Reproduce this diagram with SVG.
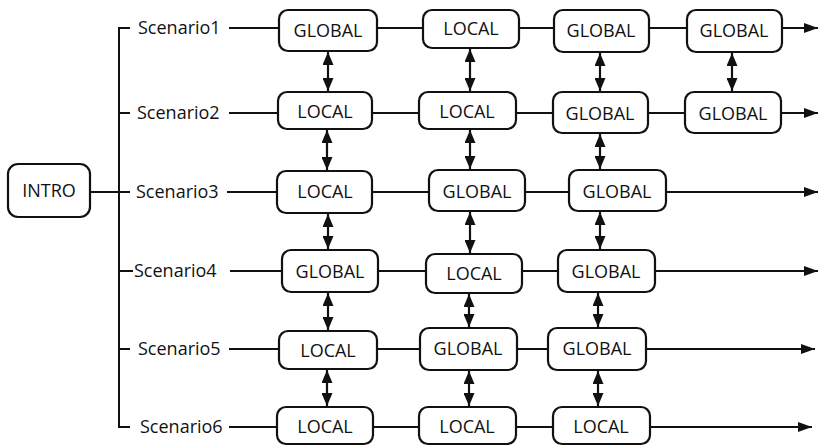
<svg xmlns="http://www.w3.org/2000/svg" width="820" height="446" viewBox="0 0 820 446">
  <defs>
    <style>
      .box { fill: #ffffff; stroke: #111111; stroke-width: 2.2; }
      .lbl { font-family: "Open Sans", "Noto Sans", "Liberation Sans", sans-serif; font-size: 18px; fill: #111111; text-anchor: middle; }
      .scn { font-family: "Open Sans", "Noto Sans", "Liberation Sans", sans-serif; font-size: 18px; fill: #111111; text-anchor: start; }
      .wire { stroke: #111111; stroke-width: 2; fill: none; }
      .link { stroke: #111111; stroke-width: 2; fill: none; marker-end: url(#head); }
      .both { stroke: #111111; stroke-width: 2.2; fill: none; marker-start: url(#vhead); marker-end: url(#vhead); }
    </style>
    <marker id="head" viewBox="0 0 14 10" refX="14" refY="5" markerWidth="14" markerHeight="10" markerUnits="userSpaceOnUse" orient="auto-start-reverse">
      <path d="M0,0 L14,5 L0,10 z" fill="#111111"/>
    </marker>
    <marker id="vhead" viewBox="0 0 13 11" refX="13" refY="5.5" markerWidth="13" markerHeight="11" markerUnits="userSpaceOnUse" orient="auto-start-reverse">
      <path d="M0,0 L13,5.5 L0,11 z" fill="#111111"/>
    </marker>
  </defs>
  <rect width="820" height="446" fill="#ffffff"/>

  <!-- connectors -->
  <g id="connectors">
    <!-- bracket from INTRO to the scenario rows -->
    <path class="wire" d="M90,192 H130"/>
    <path class="wire" d="M130,28 H119 V427 H130"/>
    <path class="wire" d="M119,113 H130"/>
    <path class="wire" d="M119,271 H133"/>
    <path class="wire" d="M119,349 H130"/>

    <!-- row 1 -->
    <path class="wire" d="M229,28 H279"/>
    <path class="wire" d="M377,28 H423"/>
    <path class="wire" d="M519,28 H554"/>
    <path class="wire" d="M649,28 H687"/>
    <path class="link" d="M782,28 H818"/>

    <!-- row 2 -->
    <path class="wire" d="M229,113 H278"/>
    <path class="wire" d="M372,113 H419"/>
    <path class="wire" d="M516,113 H553"/>
    <path class="wire" d="M648,113 H685"/>
    <path class="link" d="M781,113 H818"/>

    <!-- row 3 -->
    <path class="wire" d="M227,192 H277"/>
    <path class="wire" d="M372,192 H429"/>
    <path class="wire" d="M525,192 H569"/>
    <path class="link" d="M666,192 H818"/>

    <!-- row 4 -->
    <path class="wire" d="M230,271 H282"/>
    <path class="wire" d="M378,271 H426"/>
    <path class="wire" d="M522,271 H558"/>
    <path class="link" d="M655,271 H818"/>

    <!-- row 5 -->
    <path class="wire" d="M229,349 H279"/>
    <path class="wire" d="M377,349 H420"/>
    <path class="wire" d="M517,349 H548"/>
    <path class="link" d="M646,349 H815"/>

    <!-- row 6 -->
    <path class="wire" d="M229,427 H277"/>
    <path class="wire" d="M373,427 H419"/>
    <path class="wire" d="M516,427 H553"/>
    <path class="link" d="M650,427 H812"/>

    <!-- vertical exchanges, column 1 -->
    <path class="both" d="M328,52 V91"/>
    <path class="both" d="M327,130 V170"/>
    <path class="both" d="M328,214 V249"/>
    <path class="both" d="M328,293 V330"/>
    <path class="both" d="M327,370 V406"/>
    <!-- column 2 -->
    <path class="both" d="M470,49 V91"/>
    <path class="both" d="M470,130 V169"/>
    <path class="both" d="M470,212 V253"/>
    <path class="both" d="M469,294 V327"/>
    <path class="both" d="M469,371 V406"/>
    <!-- column 3 -->
    <path class="both" d="M600,53 V91"/>
    <path class="both" d="M600,134 V169"/>
    <path class="both" d="M600,212 V249"/>
    <path class="both" d="M598,293 V327"/>
    <path class="both" d="M598,371 V406"/>
    <!-- column 4 -->
    <path class="both" d="M732,53 V91"/>
  </g>

  <!-- INTRO -->
  <g id="intro">
    <rect class="box" x="8" y="164" width="82" height="53" rx="10"/>
    <text class="lbl" x="49" y="197">INTRO</text>
  </g>

  <!-- scenario labels -->
  <g id="scenario1"><text class="scn" x="138" y="34">Scenario1</text></g>
  <g id="scenario2"><text class="scn" x="137" y="119">Scenario2</text></g>
  <g id="scenario3"><text class="scn" x="136" y="198">Scenario3</text></g>
  <g id="scenario4"><text class="scn" x="134" y="277">Scenario4</text></g>
  <g id="scenario5"><text class="scn" x="138" y="355">Scenario5</text></g>
  <g id="scenario6"><text class="scn" x="140" y="433">Scenario6</text></g>

  <!-- row 1 -->
  <g id="s1-global-1"><rect class="box" x="279" y="10" width="98" height="41" rx="9"/><text class="lbl" x="328" y="37">GLOBAL</text></g>
  <g id="s1-local-2"><rect class="box" x="423" y="10" width="96" height="38" rx="9"/><text class="lbl" x="471" y="35">LOCAL</text></g>
  <g id="s1-global-3"><rect class="box" x="554" y="10" width="95" height="42" rx="9"/><text class="lbl" x="601" y="37">GLOBAL</text></g>
  <g id="s1-global-4"><rect class="box" x="687" y="10" width="95" height="42" rx="9"/><text class="lbl" x="734" y="37">GLOBAL</text></g>

  <!-- row 2 -->
  <g id="s2-local-1"><rect class="box" x="278" y="92" width="94" height="37" rx="9"/><text class="lbl" x="325" y="118">LOCAL</text></g>
  <g id="s2-local-2"><rect class="box" x="419" y="92" width="97" height="37" rx="9"/><text class="lbl" x="467" y="118">LOCAL</text></g>
  <g id="s2-global-3"><rect class="box" x="553" y="92" width="95" height="41" rx="9"/><text class="lbl" x="600" y="120">GLOBAL</text></g>
  <g id="s2-global-4"><rect class="box" x="685" y="92" width="96" height="41" rx="9"/><text class="lbl" x="733" y="120">GLOBAL</text></g>

  <!-- row 3 -->
  <g id="s3-local-1"><rect class="box" x="277" y="171" width="95" height="42" rx="9"/><text class="lbl" x="325" y="198">LOCAL</text></g>
  <g id="s3-global-2"><rect class="box" x="429" y="170" width="96" height="41" rx="9"/><text class="lbl" x="477" y="198">GLOBAL</text></g>
  <g id="s3-global-3"><rect class="box" x="569" y="170" width="97" height="41" rx="9"/><text class="lbl" x="617" y="198">GLOBAL</text></g>

  <!-- row 4 -->
  <g id="s4-global-1"><rect class="box" x="282" y="250" width="96" height="42" rx="9"/><text class="lbl" x="330" y="278">GLOBAL</text></g>
  <g id="s4-local-2"><rect class="box" x="426" y="254" width="96" height="39" rx="9"/><text class="lbl" x="474" y="280">LOCAL</text></g>
  <g id="s4-global-3"><rect class="box" x="558" y="250" width="97" height="42" rx="9"/><text class="lbl" x="606" y="278">GLOBAL</text></g>

  <!-- row 5 -->
  <g id="s5-local-1"><rect class="box" x="279" y="331" width="98" height="38" rx="9"/><text class="lbl" x="328" y="357">LOCAL</text></g>
  <g id="s5-global-2"><rect class="box" x="420" y="328" width="97" height="42" rx="9"/><text class="lbl" x="468" y="355">GLOBAL</text></g>
  <g id="s5-global-3"><rect class="box" x="548" y="328" width="98" height="42" rx="9"/><text class="lbl" x="597" y="355">GLOBAL</text></g>

  <!-- row 6 -->
  <g id="s6-local-1"><rect class="box" x="277" y="407" width="96" height="37" rx="9"/><text class="lbl" x="325" y="433">LOCAL</text></g>
  <g id="s6-local-2"><rect class="box" x="419" y="407" width="97" height="37" rx="9"/><text class="lbl" x="467" y="433">LOCAL</text></g>
  <g id="s6-local-3"><rect class="box" x="553" y="407" width="97" height="37" rx="9"/><text class="lbl" x="601" y="433">LOCAL</text></g>
</svg>
